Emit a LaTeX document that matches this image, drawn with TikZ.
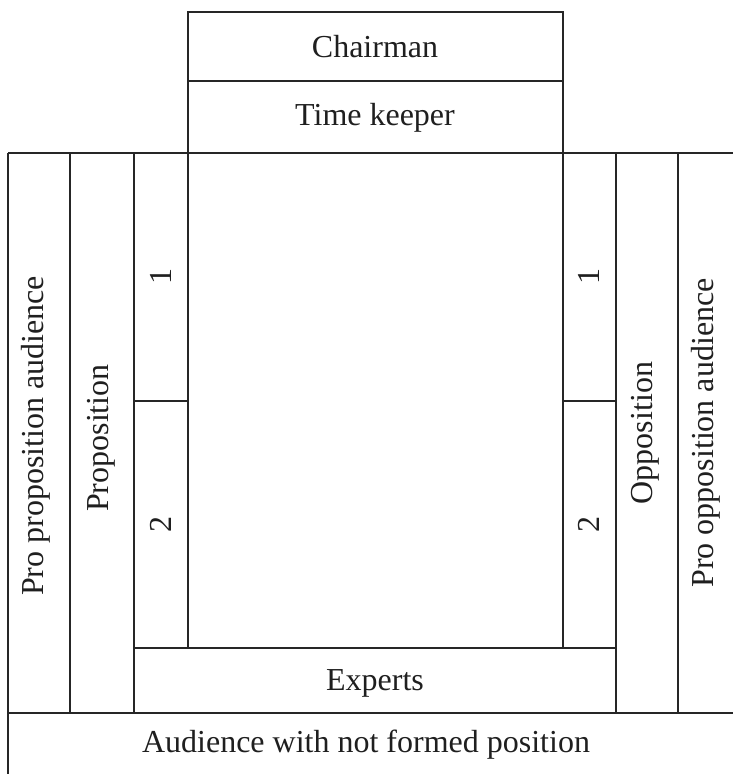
\documentclass[tikz,border=0pt]{standalone}
\usepackage{fontspec}
\setmainfont{Liberation Serif}
\begin{document}
\begin{tikzpicture}[x=0.5pt,y=-0.5pt,
  ln/.style={line width=0.9pt, black!85},
  lbl/.style={font=\fontsize{16}{19}\selectfont, inner sep=0pt, text=black!88},
  vlbl/.style={lbl, rotate=90}]
\useasboundingbox (0,0) rectangle (733,774);
% lines
\draw[ln] (188,12) rectangle (563,153);
\draw[ln] (188,81) -- (563,81);
\draw[ln] (8,153) -- (733,153);
\draw[ln] (8,153) -- (8,774);
\draw[ln] (70,153) -- (70,713);
\draw[ln] (134,153) -- (134,713);
\draw[ln] (188,153) -- (188,648);
\draw[ln] (563,153) -- (563,648);
\draw[ln] (616,153) -- (616,713);
\draw[ln] (678,153) -- (678,713);
\draw[ln] (134,401) -- (188,401);
\draw[ln] (563,401) -- (616,401);
\draw[ln] (134,648) -- (616,648);
\draw[ln] (8,713) -- (733,713);
% labels
\node[lbl] (chair) at (375,47) {Chairman};
\node[lbl] (time) at (375,118) {Time keeper};
\node[vlbl] (ppa) at (36,436) {Pro proposition audience};
\node[vlbl] (prop) at (101,438) {Proposition};
\node[vlbl] (l1) at (161,277) {1};
\node[vlbl] (l2) at (161,524) {2};
\node[vlbl] (r1) at (589,277) {1};
\node[vlbl] (r2) at (589,524) {2};
\node[vlbl] (opp) at (645,433) {Opposition};
\node[vlbl] (poa) at (706,433) {Pro opposition audience};
\node[lbl] (exp) at (375,683) {Experts};
\node[lbl] (aud) at (366,745) {Audience with not formed position};
\end{tikzpicture}
\end{document}
